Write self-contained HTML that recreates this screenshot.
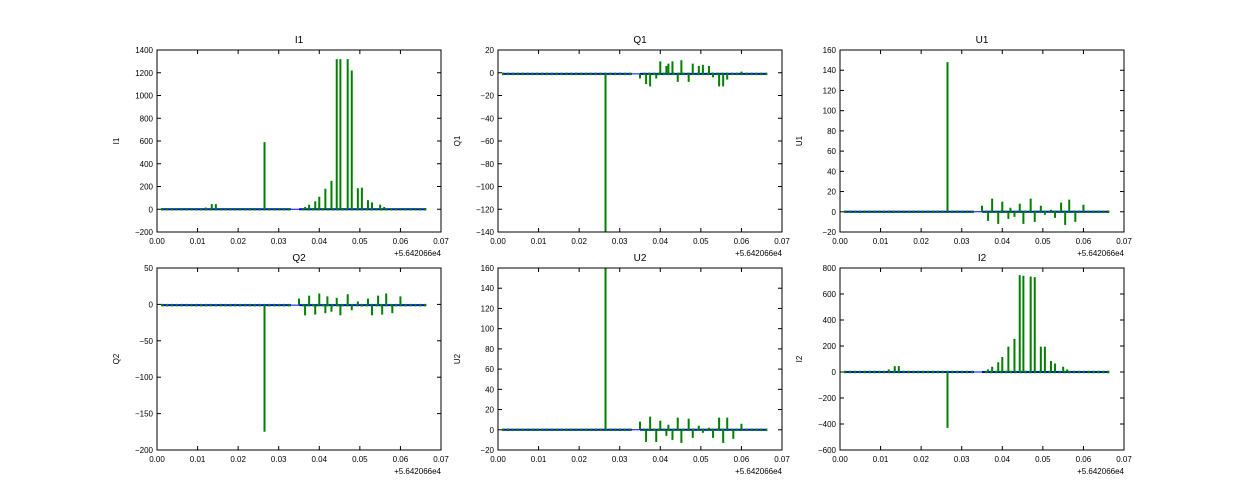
<!DOCTYPE html>
<html><head><meta charset="utf-8"><style>
html,body{margin:0;padding:0;background:#fff;}
svg{display:block;font-family:"Liberation Sans","DejaVu Sans",sans-serif;}
</style></head><body>
<svg id="s" width="1250" height="500" xmlns="http://www.w3.org/2000/svg"></svg>
<script>
var S=document.getElementById('s');var out='';
function alt(a){var r=[];var xx=[0.035,0.0365,0.0375,0.039,0.040,0.0415,0.042,0.043,0.0443,0.0452,0.047,0.048,0.0495,0.0505,0.052,0.053,0.0545,0.0555,0.0565,0.058,0.060];
for(var i=0;i<xx.length;i++){var v=a[i%a.length];r.push([xx[i],(i%2?-1:1)*v]);}return r;}
var P=[
{t:'I1',x:157,y:50,lo:-200,hi:1400,st:200,sp:[[0.012,15],[0.0135,45],[0.0145,45],[0.0265,590],[0.0365,20],[0.0375,40],[0.039,70],[0.040,110],[0.0415,180],[0.043,250],[0.0443,1320],[0.0452,1320],[0.047,1320],[0.048,1220],[0.0495,185],[0.0505,190],[0.052,80],[0.053,60],[0.055,40],[0.056,20]]},
{t:'Q1',x:498,y:50,lo:-140,hi:20,st:20,base:-1,sp:[[0.0265,-140],[0.035,-5],[0.0365,-10],[0.0375,-12],[0.039,-5],[0.040,10],[0.0415,6],[0.042,8],[0.043,10],[0.0443,-8],[0.0452,11],[0.047,-8],[0.048,8],[0.0495,6],[0.0505,7],[0.052,6],[0.053,-4],[0.0545,-12],[0.0555,-12],[0.0565,-6],[0.058,-2],[0.060,1]]},
{t:'U1',x:840,y:50,lo:-20,hi:160,st:20,sp:[[0.0265,148]].concat(alt([6,9,13,12,10,7,4,5,8,12,13,10,6,3,2]))},
{t:'Q2',x:157,y:268,lo:-200,hi:50,st:50,base:-1,sp:[[0.0265,-175]].concat(alt([8,15,12,14,15,12,11,10,9,15,14,8,4,3]))},
{t:'U2',x:498,y:268,lo:-20,hi:160,st:20,sp:[[0.0265,162]].concat(alt([8,12,13,12,9,6,5,10,12,13,11,8,4,3,2]))},
{t:'I2',x:840,y:268,lo:-600,hi:800,st:200,sp:[[0.012,20],[0.0135,45],[0.0145,45],[0.0265,-430],[0.0365,20],[0.0375,40],[0.039,75],[0.040,115],[0.0415,195],[0.043,255],[0.0443,745],[0.0452,740],[0.047,735],[0.048,730],[0.0495,195],[0.0505,195],[0.052,85],[0.053,65],[0.055,40],[0.056,20]]}
];
var W=284,H=182;
P.forEach(function(p){
 function X(v){return p.x+v/0.07*W;}
 function Y(v){return p.y+H-(v-p.lo)/(p.hi-p.lo)*H;}
 out+='<svg x="'+p.x+'" y="'+p.y+'" width="'+W+'" height="'+H+'" overflow="hidden"><g transform="translate('+(-p.x)+','+(-p.y)+')">';
 var y0=Y(p.base||0);
 out+='<line x1="'+X(0.001)+'" x2="'+X(0.066)+'" y1="'+y0+'" y2="'+y0+'" stroke="#0000ff" stroke-width="1"/>';
 out+='<line x1="'+X(0.001)+'" x2="'+X(0.033)+'" y1="'+y0+'" y2="'+y0+'" stroke="#0000ff" stroke-width="2"/>';
 out+='<line x1="'+X(0.035)+'" x2="'+X(0.066)+'" y1="'+y0+'" y2="'+y0+'" stroke="#0000ff" stroke-width="2"/>';
 for(var v=0.001;v<0.066;v+=0.0012){if(v>0.033&&v<0.035)continue;out+='<line x1="'+X(v)+'" x2="'+X(v+0.0006)+'" y1="'+y0+'" y2="'+y0+'" stroke="#008000" stroke-width="2.5"/>';}
 p.sp.forEach(function(s){out+='<line x1="'+X(s[0])+'" x2="'+X(s[0])+'" y1="'+y0+'" y2="'+Y(s[1])+'" stroke="#008000" stroke-width="2"/>';});
 out+='</g></svg>';
 out+='<rect x="'+p.x+'" y="'+p.y+'" width="'+W+'" height="'+H+'" fill="none" stroke="#000" stroke-width="1"/>';
 for(var i=0;i<=7;i++){var xx=X(i*0.01);
  out+='<line x1="'+xx+'" x2="'+xx+'" y1="'+(p.y+H)+'" y2="'+(p.y+H-4)+'" stroke="#000"/><line x1="'+xx+'" x2="'+xx+'" y1="'+p.y+'" y2="'+(p.y+4)+'" stroke="#000"/>';
  out+='<text x="'+xx+'" y="'+(p.y+H+12)+'" font-size="8" text-anchor="middle">'+(i*0.01).toFixed(2)+'</text>';}
 for(var v=p.lo;v<=p.hi+1e-9;v+=p.st){var yy=Y(v);
  out+='<line x1="'+p.x+'" x2="'+(p.x+4)+'" y1="'+yy+'" y2="'+yy+'" stroke="#000"/><line x1="'+(p.x+W)+'" x2="'+(p.x+W-4)+'" y1="'+yy+'" y2="'+yy+'" stroke="#000"/>';
  out+='<text x="'+(p.x-4)+'" y="'+(yy+3)+'" font-size="8" text-anchor="end">'+String(v).replace('-','\u2212')+'</text>';}
 out+='<text x="'+(p.x+W)+'" y="'+(p.y+H+24)+'" font-size="8" text-anchor="end">+5.642066e4</text>';
 out+='<text x="'+(p.x+W/2)+'" y="'+(p.y-7)+'" font-size="10" text-anchor="middle">'+p.t+'</text>';
 var lx=p.x-38,ly=p.y+H/2;
 out+='<text x="'+lx+'" y="'+ly+'" font-size="8" text-anchor="middle" transform="rotate(-90 '+lx+' '+ly+')">'+p.t+'</text>';
});
S.innerHTML=out;
</script>
</body></html>
